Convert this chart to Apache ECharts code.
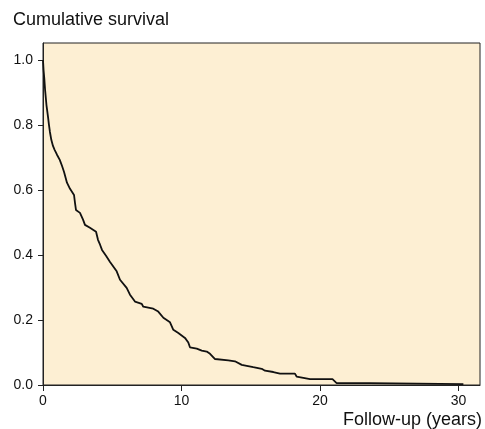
<!DOCTYPE html>
<html>
<head>
<meta charset="utf-8">
<script src="https://cdn.jsdelivr.net/npm/echarts@6/dist/echarts.min.js"></script>
<style>
  html, body { margin: 0; padding: 0; background: #fff; }
  #chart { width: 485px; height: 429px; }
</style>
</head>
<body>
<div id="chart"></div>
<script>
// follow-up time (years) and cumulative survival
var years = [0, 0.04, 0.1, 0.15, 0.25, 0.36, 0.43, 0.5, 0.6, 0.72, 0.84, 1.01, 1.21, 1.37, 1.52,
	1.73, 1.95, 2.24, 2.31, 2.38, 2.67, 2.89, 3.03, 3.39, 3.83, 3.97, 4.12, 4.26, 4.55, 4.84,
	5.32, 5.56, 6.04, 6.28, 6.64, 7.13, 7.24, 7.96, 8.32, 8.69, 9.17, 9.41, 9.77, 10.25, 10.49,
	10.61, 11.1, 11.46, 11.82, 12.06, 12.42, 13.38, 13.86, 14.35, 14.71, 15.18, 15.79, 16.03,
	16.63, 17.11, 18.19, 18.31, 19.28, 20.9, 21.2, 23.6, 23.73, 30.35];
var survival = [1.0, 0.97, 0.94, 0.909, 0.862, 0.826, 0.801, 0.779, 0.755, 0.736, 0.724, 0.709,
	0.693, 0.675, 0.656, 0.623, 0.604, 0.585, 0.561, 0.539, 0.53, 0.509, 0.493, 0.484, 0.472,
	0.447, 0.432, 0.416, 0.398, 0.379, 0.35, 0.324, 0.299, 0.278, 0.257, 0.25, 0.241, 0.235,
	0.226, 0.207, 0.193, 0.17, 0.16, 0.145, 0.131, 0.116, 0.112, 0.106, 0.103, 0.096, 0.08,
	0.076, 0.073, 0.062, 0.059, 0.055, 0.05, 0.044, 0.04, 0.035, 0.035, 0.026, 0.018, 0.018,
	0.006, 0.006, 0.003, 0.003];
var xTicks = [0, 10, 20, 30];
var yTicks = [0, 0.2, 0.4, 0.6, 0.8, 1.0];

var points = years.map(function(t, i) {
	return [t, survival[i]];
});

var myChart = echarts.init(document.getElementById('chart'));
var font = 'Liberation Sans, Arial, Helvetica, sans-serif';
var option = {
	backgroundColor: '#fff',
	animation: false,
	title: [{
		text: 'Cumulative survival',
		left: 13,
		top: 11,
		padding: 0,
		textStyle: { fontFamily: font, fontSize: 18, fontWeight: 'normal', color: '#111' }
	}, {
		text: 'Follow-up (years)',
		right: 3,
		top: 411,
		padding: 0,
		textStyle: { fontFamily: font, fontSize: 18, fontWeight: 'normal', color: '#111' }
	}],
	grid: {
		left: 43,
		top: 43,
		right: 5,
		bottom: 44,
		show: true,
		backgroundColor: '#fdefd3',
		borderColor: '#222',
		borderWidth: 1
	},
	xAxis: {
		type: 'value',
		min: 0,
		max: 31.55,
		interval: 10,
		splitLine: { show: false },
		axisLine: { lineStyle: { color: '#222', width: 1 } },
		axisTick: { length: 6, customValues: xTicks, lineStyle: { color: '#222' } },
		axisLabel: {
			customValues: xTicks,
			margin: 9,
			fontFamily: font,
			fontSize: 14,
			color: '#111'
		}
	},
	yAxis: {
		type: 'value',
		min: 0,
		max: 1.053,
		interval: 0.2,
		splitLine: { show: false },
		axisLine: { show: true, lineStyle: { color: '#222', width: 1 } },
		axisTick: { show: true, length: 5, customValues: yTicks, lineStyle: { color: '#222' } },
		axisLabel: {
			customValues: yTicks,
			margin: 10,
			fontFamily: font,
			fontSize: 14,
			color: '#111',
			formatter: function(v) { return v.toFixed(1); }
		}
	},
	series: [{
		type: 'line',
		data: points,
		showSymbol: false,
		lineStyle: { color: '#111', width: 1.8 }
	}]
};
myChart.setOption(option);
</script>
</body>
</html>
